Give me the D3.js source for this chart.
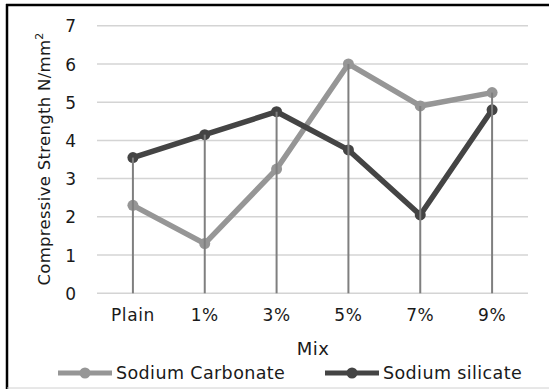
<!DOCTYPE html>
<html><head><meta charset="utf-8">
<script src="https://cdn.jsdelivr.net/npm/d3@7/dist/d3.min.js"></script>
<style>body{margin:0;background:#fff}svg{display:block}text{font-family:"DejaVu Sans",sans-serif;fill:#1a1a1a}</style>
</head><body><svg id="c" width="549" height="389"></svg>
<script>
const categories = ["Plain","1%","3%","5%","7%","9%"];
const sodiumCarbonate = [2.3,1.3,3.25,6.0,4.9,5.25];
const sodiumSilicate = [3.55,4.15,4.75,3.75,2.05,4.8];
const yTicks = [0,1,2,3,4,5,6,7];
const seriesNames = ["Sodium Carbonate","Sodium silicate"];

const svg = d3.select("#c");
const W=549,H=389;
svg.append("rect").attr("width",W).attr("height",H).attr("fill","#fff");
// frame
svg.append("line").attr("x1",6).attr("x2",549).attr("y1",5).attr("y2",5).attr("stroke","#000").attr("stroke-width",2.5);
svg.append("line").attr("x1",7).attr("x2",7).attr("y1",4).attr("y2",389).attr("stroke","#000").attr("stroke-width",2.5);
svg.append("line").attr("x1",7).attr("x2",549).attr("y1",388).attr("y2",388).attr("stroke","#d0d0d0").attr("stroke-width",1);

const x = d3.scaleBand().domain(categories).range([97,528]);
const y = d3.scaleLinear().domain([0,7]).range([293.3,25.7]);
const cx = d => x(d)+x.bandwidth()/2;

// grid
svg.append("g").selectAll("line").data(yTicks).join("line")
  .attr("x1",97).attr("x2",528).attr("y1",d=>y(d)).attr("y2",d=>y(d))
  .attr("stroke","#d4d4d4").attr("stroke-width",1.5);

// y tick labels
const yAxis = d3.axisLeft(y).tickValues(yTicks).tickSize(0).tickPadding(0).tickFormat(d3.format("d"));
const ga = svg.append("g").attr("transform","translate(76,0)").call(yAxis);
ga.select(".domain").remove();
ga.selectAll("text").attr("font-size",17).attr("font-family","DejaVu Sans").attr("fill","#1a1a1a").attr("dy","0.36em");

// x labels
const xAxis = d3.axisBottom(x).tickSize(0).tickPadding(0);
const gx = svg.append("g").attr("transform","translate(0,309)").call(xAxis);
gx.select(".domain").remove();
gx.selectAll("text").attr("font-size",17).attr("font-family","DejaVu Sans").attr("fill","#1a1a1a").attr("letter-spacing",0.6).attr("dy","0.71em");

// axis titles
svg.append("text").attr("x",313).attr("y",355).attr("text-anchor","middle").attr("font-size",18).attr("letter-spacing",0.5).text("Mix");
const yt = svg.append("text").attr("transform","translate(50,159) rotate(-90)").attr("text-anchor","middle").attr("font-size",16.5).attr("letter-spacing",0.3);
yt.append("tspan").text("Compressive Strength N/mm");
yt.append("tspan").attr("font-size",11).attr("dy",-7).text("2");

const series = [
  {name:seriesNames[0], values:sodiumCarbonate, color:"#969696"},
  {name:seriesNames[1], values:sodiumSilicate, color:"#444444"}
];
const line = d3.line().x((d,i)=>cx(categories[i])).y(d=>y(d));
series.forEach(s=>{
  svg.append("path").datum(s.values).attr("d",line).attr("fill","none")
    .attr("stroke",s.color).attr("stroke-width",5.5).attr("stroke-linejoin","round");
  svg.append("g").selectAll("circle").data(s.values).join("circle")
    .attr("cx",(d,i)=>cx(categories[i])).attr("cy",d=>y(d)).attr("r",5.5).attr("fill",s.color);
});

// drop lines
svg.append("g").selectAll("line").data(categories).join("line")
  .attr("x1",d=>cx(d)).attr("x2",d=>cx(d))
  .attr("y1",(d,i)=>y(Math.max(sodiumCarbonate[i],sodiumSilicate[i])))
  .attr("y2",y(0)).attr("stroke","#7f7f7f").attr("stroke-width",2);

// legend
const leg = [{x1:58,x2:112,tx:116},{x1:325,x2:379,tx:383}];
series.forEach((s,i)=>{
  const L=leg[i], ly=373;
  svg.append("line").attr("x1",L.x1).attr("x2",L.x2).attr("y1",ly).attr("y2",ly).attr("stroke",s.color).attr("stroke-width",5);
  svg.append("circle").attr("cx",(L.x1+L.x2)/2).attr("cy",ly).attr("r",5.5).attr("fill",s.color);
  svg.append("text").attr("x",L.tx).attr("y",ly).attr("dy","0.36em").attr("font-size",17.5).attr("letter-spacing",0.4).text(s.name);
});
</script></body></html>
